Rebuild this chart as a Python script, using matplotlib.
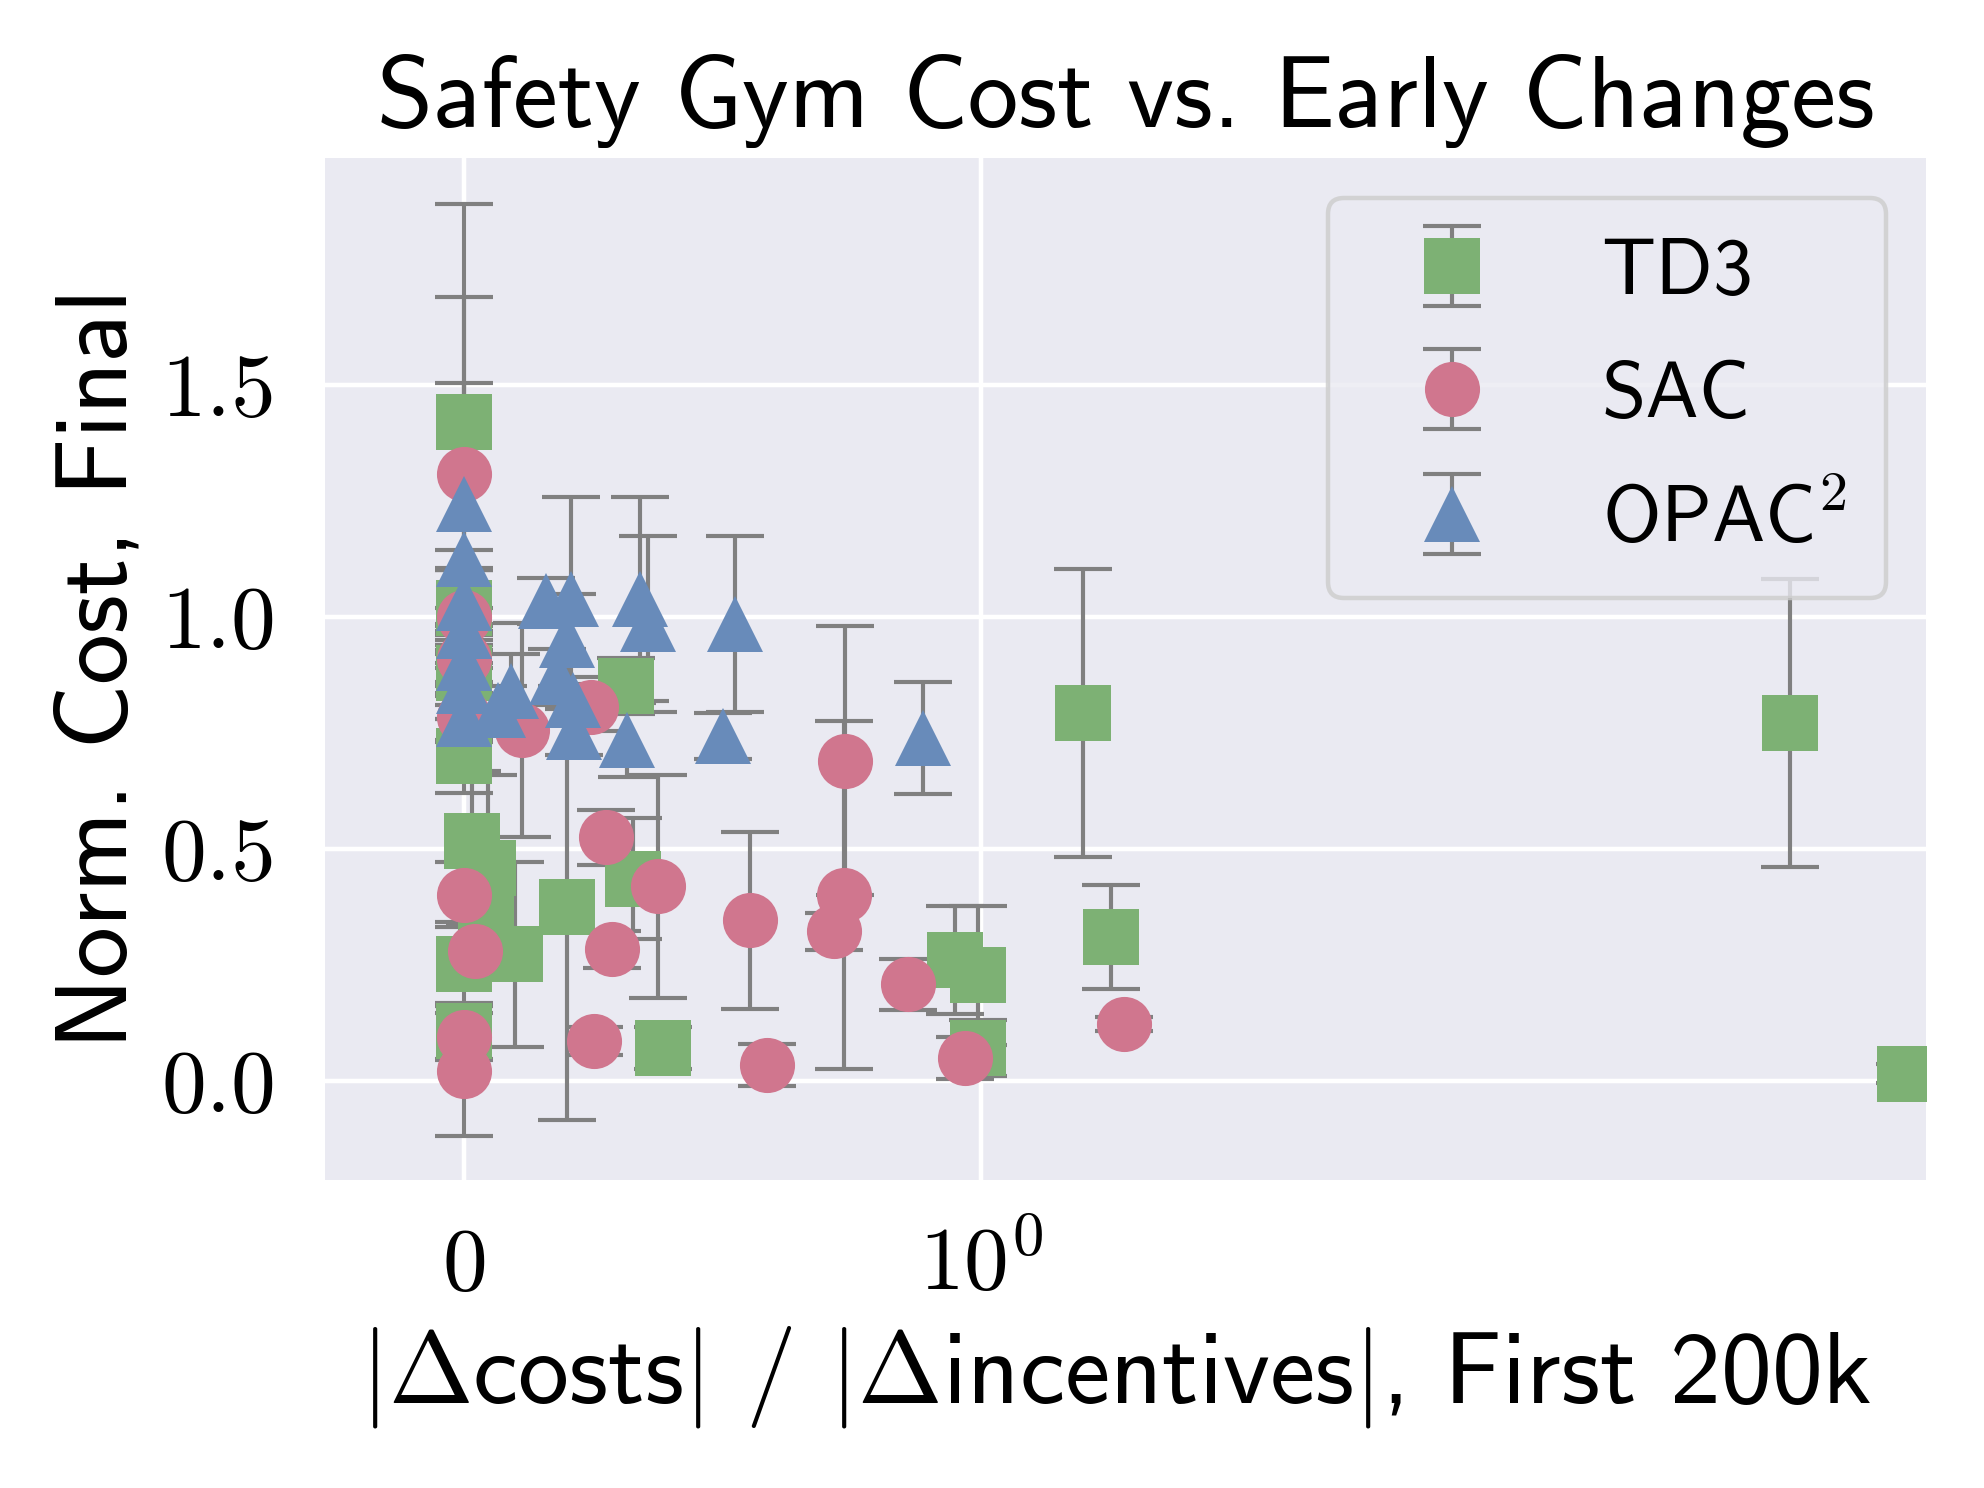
import numpy as np
import matplotlib
matplotlib.use('Agg')
import matplotlib.pyplot as plt

# values
td3_x = [0.0, 0.0, 0.0, 0.0, 0.016, 0.047, 0.043, 0.0, 0.0, 0.098, 0.20,
         0.313, 0.326, 0.384, 0.95, 0.994, 0.994, 1.197, 1.251, 4.12, 5.48]
td3_y = [1.42, 1.02, 0.88, 0.70, 0.517, 0.459, 0.351, 0.252, 0.108, 0.273, 0.376,
         0.851, 0.436, 0.071, 0.261, 0.228, 0.071, 0.793, 0.310, 0.771, 0.016]
td3_err = [0.47, 0.08, 0.10, 0.08, 0.15, 0.20, 0.12, 0.09, 0.06, 0.20, 0.46,
           0.06, 0.13, 0.045, 0.117, 0.15, 0.06, 0.31, 0.112, 0.31, 0.02]

sac_x = [0.0, 0.0, 0.0, 0.0, 0.0, 0.021, 0.0, 0.0, 0.113, 0.246, 0.274,
         0.252, 0.287, 0.376, 0.554, 0.587, 0.736, 0.735, 0.716, 0.859, 0.97, 1.277]
sac_y = [1.308, 1.00, 0.91, 0.785, 0.401, 0.281, 0.096, 0.021, 0.756, 0.805, 0.525,
         0.087, 0.284, 0.42, 0.346, 0.035, 0.69, 0.40, 0.323, 0.209, 0.05, 0.123]
sac_err = [0.38, 0.10, 0.06, 0.05, 0.07, 0.06, 0.05, 0.14, 0.23, 0.05, 0.06,
           0.03, 0.04, 0.24, 0.19, 0.045, 0.29, 0.375, 0.04, 0.055, 0.045, 0.015]

opac_x = [0.0, 0.0, 0.0, 0.0, 0.0, 0.0, 0.0, 0.065, 0.091, 0.158, 0.206,
          0.20, 0.18, 0.213, 0.21, 0.315, 0.341, 0.356, 0.50, 0.524, 0.888]
opac_y = [1.244, 1.125, 1.03, 0.97, 0.90, 0.85, 0.78, 0.80, 0.84, 1.034, 1.038,
          0.95, 0.87, 0.752, 0.82, 0.735, 1.038, 0.985, 0.743, 0.985, 0.739]
opac_err = [0.26, 0.02, 0.07, 0.05, 0.04, 0.04, 0.05, 0.05, 0.08, 0.05, 0.22,
            0.10, 0.06, 0.05, 0.05, 0.08, 0.22, 0.19, 0.05, 0.19, 0.12]

xtick_vals = [0, 1]
xtick_labels = [r'$0$', r'$10^0$']
ytick_vals = [0.0, 0.5, 1.0, 1.5]
ytick_labels = [r'$0.0$', r'$0.5$', r'$1.0$', r'$1.5$']

plt.rcParams['font.family'] = ['cmss10', 'DejaVu Sans']
plt.rcParams['mathtext.fontset'] = 'cm'
plt.rcParams['axes.unicode_minus'] = False

fig = plt.figure(figsize=(8, 6), dpi=248)
ax = fig.add_axes([0.1638, 0.207, 0.807, 0.687])
ax.set_facecolor('#EAEAF2')
for s in ax.spines.values():
    s.set_visible(False)
ax.grid(True, color='white', linewidth=1.3)
ax.set_axisbelow(True)
ax.set_xscale('symlog', linthresh=2)

series = [
    (td3_x, td3_y, td3_err, 's', '#7DB174', 'TD3'),
    (sac_x, sac_y, sac_err, 'o', '#D0768E', 'SAC'),
    (opac_x, opac_y, opac_err, '^', '#688BBA', r'OPAC$^2$'),
]
for x, y, e, m, c, lab in series:
    cont = ax.errorbar(x, y, yerr=e, fmt=m, color=c, ms=16, ecolor='gray',
                       elinewidth=1.2, capsize=8.5, capthick=1.2, label=lab)
    cont[0].set_markeredgewidth(0)

ax.set_xlim(-0.269, 5.77)
ax.set_ylim(-0.213, 1.989)
ax.set_xticks(xtick_vals)
ax.set_xticklabels(xtick_labels)
ax.xaxis.set_minor_locator(matplotlib.ticker.NullLocator())
ax.set_yticks(ytick_vals)
ax.set_yticklabels(ytick_labels)
ax.tick_params(length=0, labelsize=26)
ax.tick_params(axis='y', pad=15)
ax.tick_params(axis='x', pad=32)
plt.setp(ax.get_xticklabels(), va='baseline')

ax.set_title('Safety Gym Cost vs. Early Changes', fontsize=29.4, pad=9)
ax.set_xlabel(r'$|\Delta$costs$|$ / $|\Delta$incentives$|$, First 200k', fontsize=29.5, labelpad=5)
ax.xaxis.label.set_x(0.494)
ax.set_ylabel('Norm. Cost, Final', fontsize=29.5, labelpad=4)

leg = ax.legend(loc='upper right', fontsize=23.2, handlelength=2.1, handletextpad=0.82,
                borderaxespad=0.5, borderpad=0.5, labelspacing=0.64, facecolor='#EAEAF2',
                framealpha=0.8, edgecolor='#CCCCCC', fancybox=True)
leg.get_frame().set_linewidth(1.3)

fig.savefig('out.png', dpi=248)
